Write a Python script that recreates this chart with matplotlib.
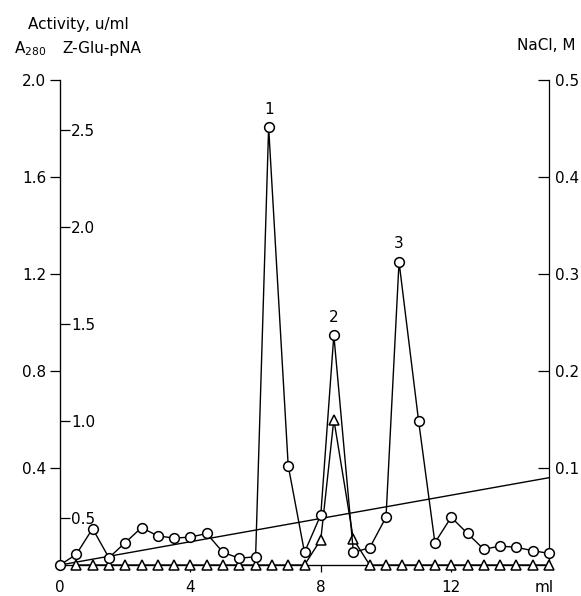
import matplotlib
matplotlib.use('Agg')
import matplotlib.pyplot as plt
from matplotlib.ticker import FormatStrFormatter

# ---------------- data ----------------
elution_ml = [0, 0.5, 1.0, 1.5, 2.0, 2.5, 3.0, 3.5, 4.0, 4.5, 5.0, 5.5, 6.0, 6.4,
              7.0, 7.5, 8.0, 8.4, 9.0, 9.5, 10.0, 10.4, 11.0, 11.5, 12.0, 12.5,
              13.0, 13.5, 14.0, 14.5, 15.0]
a280 = [0.0, 0.044, 0.15, 0.03, 0.092, 0.154, 0.12, 0.111, 0.115, 0.13, 0.052,
        0.028, 0.034, 1.805, 0.41, 0.052, 0.207, 0.948, 0.052, 0.071, 0.197,
        1.25, 0.594, 0.092, 0.197, 0.13, 0.065, 0.078, 0.073, 0.059, 0.048]

activity_ml = [0.5, 1.0, 1.5, 2.0, 2.5, 3.0, 3.5, 4.0, 4.5, 5.0, 5.5, 6.0, 6.5,
               7.0, 7.5, 8.0, 8.4, 9.0, 9.5, 10.0, 10.5, 11.0, 11.5, 12.0, 12.5,
               13.0, 13.5, 14.0, 14.5, 15.0]
# Z-Glu-pNA activity, drawn in A280-axis units
activity = [0, 0, 0, 0, 0, 0, 0, 0, 0, 0, 0, 0, 0, 0, 0, 0.105, 0.60, 0.106,
            0, 0, 0, 0, 0, 0, 0, 0, 0, 0, 0, 0]

nacl_ml = [0, 15]
nacl_m = [0, 0.09]

peak_names = ['1', '2', '3']
peak_ml = [6.4, 8.4, 10.4]

a280_ticks = [0.4, 0.8, 1.2, 1.6, 2.0]
act_ticks = [0.5, 1.0, 1.5, 2.0, 2.5]
nacl_ticks = [0.1, 0.2, 0.3, 0.4, 0.5]
x_ticks = [0, 4, 8, 12]
x_ticklabels = ['0', '4', '8', '12']

# ---------------- figure ----------------
W, H = 581, 596
fig = plt.figure(figsize=(W / 100, H / 100), dpi=100)
plt.rcParams['font.family'] = ['DejaVu Sans']
FS = 11

ax = fig.add_axes([60 / W, 1 - 565 / H, (549 - 60) / W, (565 - 80) / H])
ax2 = ax.twinx()
ax.set_zorder(ax2.get_zorder() + 1)
ax.patch.set_visible(False)

lw = 1.0
ax.plot(elution_ml, a280, color='black', lw=lw, marker='o', ms=7,
        mfc='white', mec='black', mew=1.1, clip_on=False, zorder=4)
ax.plot(activity_ml, activity, color='black', lw=lw, marker='^', ms=7.5,
        mfc='white', mec='black', mew=1.1, clip_on=False, zorder=3)
ax2.plot(nacl_ml, nacl_m, color='black', lw=lw, clip_on=False)

for name, px in zip(peak_names, peak_ml):
    py = a280[elution_ml.index(px)]
    ax.annotate(name, (px, py), xytext=(0, 7.5), textcoords='offset points',
                ha='center', va='bottom', fontsize=FS)

ax.set_xlim(0, 15)
ax.set_ylim(0, 2.0)
ax2.set_ylim(0, 0.5)

for a in (ax, ax2):
    a.spines['top'].set_visible(False)
ax.spines['right'].set_visible(False)

ax.set_yticks(a280_ticks)
ax.yaxis.set_major_formatter(FormatStrFormatter('%.1f'))
ax.tick_params(axis='y', direction='out', length=7, width=0.9, pad=3, labelsize=FS)

ax.set_xticks(x_ticks + [14.85], labels=x_ticklabels + ['ml'])
ax.xaxis.get_major_ticks()[-1].tick1line.set_visible(False)
ax.xaxis.get_major_ticks()[0].tick1line.set_visible(False)
ax.tick_params(axis='x', direction='out', length=5, width=0.9, pad=5.5, labelsize=FS)

ax2.set_yticks(nacl_ticks)
ax2.yaxis.set_major_formatter(FormatStrFormatter('%.1f'))
ax2.tick_params(axis='y', direction='in', length=8, width=0.9, pad=4, labelsize=FS)

# Activity axis drawn on the left spine, labels inside
sec = ax.secondary_yaxis(0, functions=(lambda A: 1.25 * A + 0.26,
                                        lambda a: (a - 0.26) / 1.25))
sec.set_alignment('right')
sec.spines['right'].set_visible(False)
sec.set_yticks(act_ticks)
sec.yaxis.set_major_formatter(FormatStrFormatter('%.1f'))
sec.tick_params(axis='y', direction='out', length=7, width=0.9, pad=1, labelsize=FS)

for s in ('left', 'bottom'):
    ax.spines[s].set_linewidth(0.9)
ax2.spines['right'].set_linewidth(0.9)

# header labels
fig.text(28 / W, 1 - 24 / H, 'Activity, u/ml', fontsize=FS, ha='left', va='center')
fig.text(14 / W, 1 - 49 / H, r'A$_{\mathregular{280}}$', fontsize=FS, ha='left', va='center')
fig.text(62 / W, 1 - 49 / H, 'Z-Glu-pNA', fontsize=FS, ha='left', va='center')
fig.text(517 / W, 1 - 45 / H, 'NaCl, M', fontsize=FS, ha='left', va='center')

fig.savefig('out.png', dpi=100)
